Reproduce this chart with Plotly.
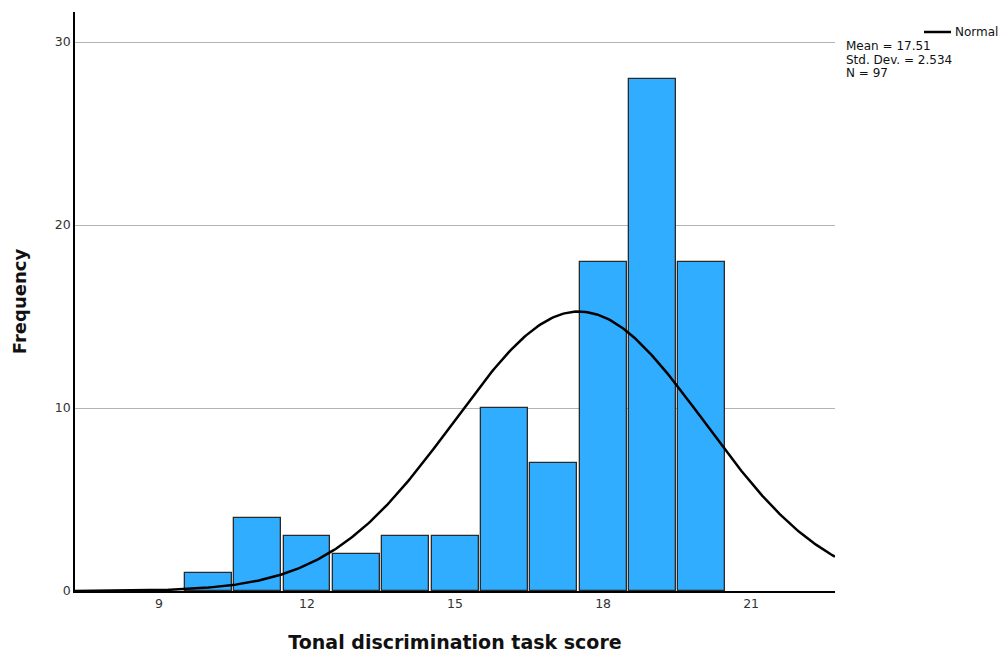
import numpy as np
import plotly.graph_objects as go

# Data
scores = [10, 11, 12, 13, 14, 15, 16, 17, 18, 19, 20]
counts = [1, 4, 3, 2, 3, 3, 10, 7, 18, 28, 18]
mean_val = 17.51
sd_val = 2.534
n_val = 97
bin_width = 1
x_ticks = [9, 12, 15, 18, 21]
y_ticks = [0, 10, 20, 30]

x_min, x_max = 7.297, 22.70
y_min, y_max = 0, 31.64

# Fitted normal curve (from stated mean, SD, N)
xc = np.linspace(x_min, x_max, 400)
yc = n_val * bin_width / (sd_val * np.sqrt(2 * np.pi)) * np.exp(-0.5 * ((xc - mean_val) / sd_val) ** 2)

fig = go.Figure()
fig.add_trace(go.Bar(
    x=scores, y=counts, width=0.95,
    marker=dict(color="#31adff", line=dict(color="#2a2a2a", width=1.3)),
    showlegend=False, hoverinfo="x+y"))
fig.add_trace(go.Scatter(
    x=xc, y=yc, mode="lines", line=dict(color="black", width=2.5),
    showlegend=False, hoverinfo="skip"))

# page body has an 8px margin
OFF = 8
W, H = 1000, 649
L, R, T, B = 75 - OFF, 173, 12 - OFF, 66
pw, ph = W - L - R, H - T - B

def px(x):
    return (x - OFF - L) / pw

def py(y):
    return (H - B - (y - OFF)) / ph

fig.update_layout(
    width=W, height=H,
    margin=dict(l=L, r=R, t=T, b=B),
    plot_bgcolor="white", paper_bgcolor="white",
    font=dict(family="DejaVu Sans", color="#333333"),
    xaxis=dict(range=[x_min, x_max], tickvals=x_ticks, showgrid=False,
               showline=True, linecolor="black", linewidth=1.5, zeroline=False,
               ticks="", tickfont=dict(size=12.5, color="#333333"),
               title=dict(text="<b>Tonal discrimination task score</b>",
                          font=dict(size=19, color="#111111"), standoff=26)),
    yaxis=dict(range=[y_min, y_max], tickvals=y_ticks, showgrid=True,
               gridcolor="#b4b4b4", gridwidth=1,
               showline=True, linecolor="black", linewidth=1.5, zeroline=False,
               ticks="", tickfont=dict(size=12.5, color="#333333"),
               title=dict(text="<b>Frequency</b>",
                          font=dict(size=18, color="#111111"), standoff=24)),
    bargap=0,
)

# Legend-like annotations
fig.add_shape(type="line", xref="paper", yref="paper",
              x0=px(924), x1=px(951), y0=py(32), y1=py(32),
              line=dict(color="black", width=2.5))
fig.add_annotation(xref="paper", yref="paper", x=px(953), y=py(32),
                   xanchor="left", yanchor="middle", showarrow=False,
                   text="Normal", font=dict(size=12, color="#111111"))
stats = [f"Mean = {mean_val}", f"Std. Dev. = {sd_val}", f"N = {n_val}"]
for i, s in enumerate(stats):
    fig.add_annotation(xref="paper", yref="paper", x=px(844), y=py(46 + 13.5 * i),
                       xanchor="left", yanchor="middle", showarrow=False,
                       text=s, font=dict(size=12, color="#111111"))

fig.write_html("out.html")
